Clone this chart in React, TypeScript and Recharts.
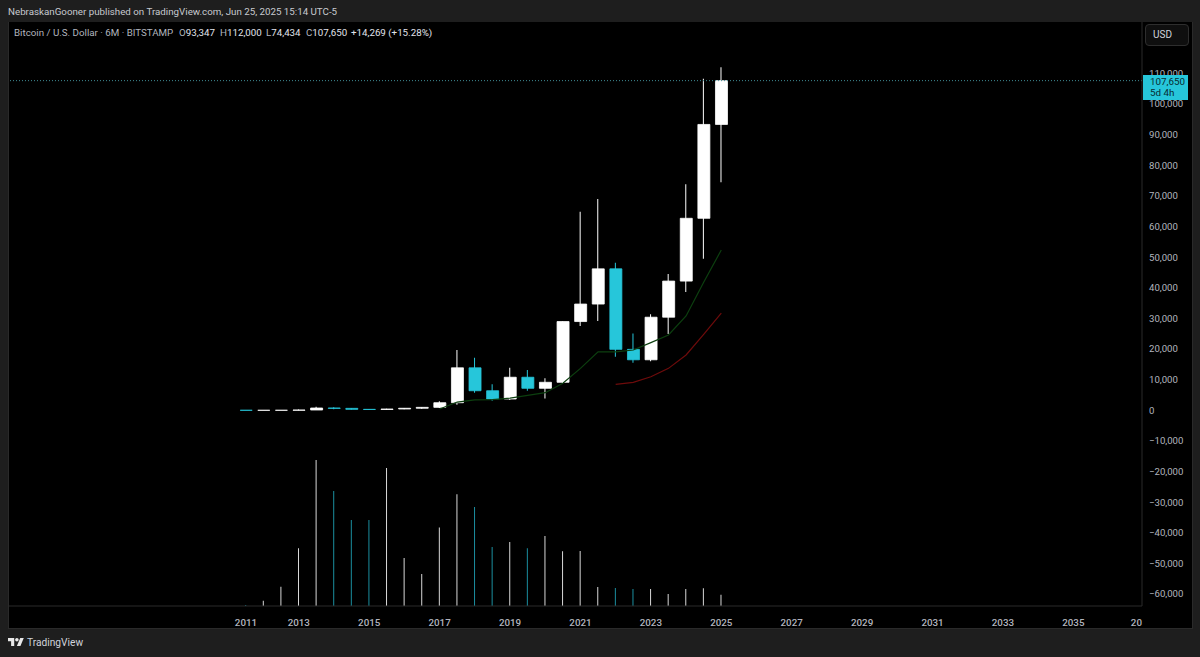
import React from 'react';
import { ComposedChart, Bar, Line, XAxis, YAxis, ReferenceLine, Cell } from 'recharts';

const periods = [
  2011.5, 2012, 2012.5, 2013, 2013.5, 2014, 2014.5, 2015, 2015.5, 2016, 2016.5, 2017, 2017.5, 2018,
  2018.5, 2019, 2019.5, 2020, 2020.5, 2021, 2021.5, 2022, 2022.5, 2023, 2023.5, 2024, 2024.5, 2025,
];
const opens = [
  15, 5, 7, 14, 97, 754, 640, 320, 263, 430, 673, 966, 2480, 13880,
  6390, 3694, 10800, 7190, 9150, 28990, 34700, 46200, 19900, 16500, 30400, 42200, 62700, 93347,
];
const highs = [
  31, 8, 15, 266, 1163, 995, 680, 320, 500, 780, 980, 3000, 19666, 17176,
  8490, 13880, 13160, 10450, 29000, 64800, 69000, 48200, 25100, 31400, 44500, 73800, 108300, 112000,
];
const lows = [
  2, 4, 6, 13, 65, 340, 275, 152, 199, 350, 470, 775, 1800, 5750,
  3122, 3350, 6400, 3850, 8900, 27500, 29200, 17500, 15500, 16000, 24900, 38600, 49500, 74434,
];
const closes = [
  5, 7, 14, 97, 754, 640, 320, 263, 430, 673, 966, 2480, 13880, 6390,
  3694, 10800, 7190, 9150, 28990, 34700, 46200, 19900, 16500, 30400, 42200, 62700, 93347, 107650,
];
// volume, thousands of BTC
const volumes = [
  40, 220, 790, 2370, 6000, 4730, 3530, 3530, 5670, 1970, 1320, 3230, 4590, 4070,
  2420, 2630, 2370, 2880, 2250, 2260, 780, 740, 700, 700, 490, 700, 730, 460,
];
const greenLine = [
  null, null, null, null, null, null, null, null, null, null, null, 430, 2700, 3400,
  3460, 4000, 4900, 5750, 8820, 13700, 19100, 19100, 19700, 22100, 24600, 30800, 41800, 52350,
];
const redLine = [
  null, null, null, null, null, null, null, null, null, null, null, null, null, null,
  null, null, null, null, null, null, null, 8490, 9140, 10970, 13700, 18060, 24800, 31700,
];

const priceTicks = [
  110000, 100000, 90000, 80000, 70000, 60000, 50000, 40000, 30000, 20000, 10000, 0,
  -10000, -20000, -30000, -40000, -50000, -60000,
];
const yearTicks = [2011.5, 2013, 2015, 2017, 2019, 2021, 2023, 2025, 2027, 2029, 2031, 2033, 2035, 2036.95];

const UP = '#ffffff';
const DOWN = '#26c6da';
const LABEL = '#b2b5be';
const FONT = 'Roboto, sans-serif';

const chartData = periods.map((period, i) => ({
  period,
  wick: [lows[i], highs[i]],
  body: [Math.min(opens[i], closes[i]), Math.max(opens[i], closes[i])],
  volume: volumes[i],
  green: greenLine[i],
  red: redLine[i],
  color: closes[i] >= opens[i] ? UP : DOWN,
}));

const YearTick = ({ x, y, payload }: any) => {
  const last = payload.value > 2036;
  return (
    <text x={x} y={y + 12} textAnchor={last ? 'end' : 'middle'} fill={LABEL} fontSize={9.8} fontWeight={500} fontFamily={FONT}>
      {last ? '20' : Math.floor(payload.value)}
    </text>
  );
};

const Ohlc = ({ k, v, w }: { k: string; v: string; w: number }) => (
  <span style={{ display: 'inline-block', width: w }}>
    <span style={{ color: LABEL }}>{k}</span>
    <span style={{ color: '#e0e3eb' }}>{v}</span>
  </span>
);

const abs = (left: number, top: number): React.CSSProperties => ({ position: 'absolute', left, top, whiteSpace: 'nowrap' });

export default function App() {
  const xDomain = [2004.74, 2036.95];
  return (
    <div style={{ position: 'absolute', left: 0, top: 0, width: 1200, height: 657, background: '#1e1e1e', fontFamily: FONT, overflow: 'hidden' }}>
      <div style={{ ...abs(8, 5), fontSize: 9.75, lineHeight: '14px', color: '#c8cad0' }}>
        NebraskanGooner published on TradingView.com, Jun 25, 2025 15:14 UTC-5
      </div>

      {/* plot panel */}
      <div style={{ position: 'absolute', left: 8, top: 22, width: 1183, height: 606, background: '#000', border: '1px solid #2a2a2a', borderTop: 'none' }} />

      <div style={{ position: 'absolute', left: 0, top: 0 }}>
        <ComposedChart width={1200} height={657} data={chartData} margin={{ top: 22, right: 8, bottom: 28, left: 8 }}>
          <XAxis xAxisId="body" dataKey="period" type="number" domain={xDomain} ticks={yearTicks} interval={0}
            height={23} tickLine={false} axisLine={{ stroke: '#2a2a2a' }} tick={<YearTick />} allowDataOverflow />
          <XAxis xAxisId="wick" dataKey="period" type="number" domain={xDomain} hide allowDataOverflow />
          <XAxis xAxisId="vol" dataKey="period" type="number" domain={xDomain} hide allowDataOverflow />
          <YAxis yAxisId="price" orientation="right" domain={[-63900, 126800]} ticks={priceTicks} interval={0} width={50}
            allowDataOverflow tickLine={false} tickSize={0} tickMargin={7} axisLine={{ stroke: '#2a2a2a' }}
            tick={{ fill: LABEL, fontSize: 9.6, fontFamily: FONT }}
            tickFormatter={(v: number) => v.toLocaleString('en-US').replace('-', '\u2212')} />
          <YAxis yAxisId="vol" hide domain={[0, 24000]} allowDataOverflow />

          <Bar xAxisId="vol" yAxisId="vol" dataKey="volume" barSize={1} isAnimationActive={false}>
            {chartData.map((d) => (
              <Cell key={d.period} fill={d.color === UP ? '#d8d8d8' : '#1b8fa0'} />
            ))}
          </Bar>

          <ReferenceLine xAxisId="body" yAxisId="price" y={107650} stroke="#3f8c96" strokeDasharray="1 2" />

          <Line xAxisId="body" yAxisId="price" dataKey="green" stroke="#0c3f0f" strokeWidth={1.2} dot={false} isAnimationActive={false} />
          <Line xAxisId="body" yAxisId="price" dataKey="red" stroke="#6e0b0b" strokeWidth={1.2} dot={false} isAnimationActive={false} />

          <Bar xAxisId="wick" yAxisId="price" dataKey="wick" barSize={1} isAnimationActive={false}>
            {chartData.map((d) => (
              <Cell key={d.period} fill={d.color} />
            ))}
          </Bar>
          <Bar xAxisId="body" yAxisId="price" dataKey="body" barSize={12} isAnimationActive={false}>
            {chartData.map((d) => (
              <Cell key={d.period} fill={d.color} stroke={d.color} strokeWidth={0.8} />
            ))}
          </Bar>
        </ComposedChart>
      </div>

      {/* legend row */}
      <div style={{ ...abs(14, 26), fontSize: 9.75, lineHeight: '14px', color: LABEL }}>
        <span style={{ display: 'inline-block', width: 165 }}>Bitcoin / U.S. Dollar · 6M · BITSTAMP</span>
        <Ohlc k="O" v="93,347" w={41} />
        <Ohlc k="H" v="112,000" w={46} />
        <Ohlc k="L" v="74,434" w={40} />
        <Ohlc k="C" v="107,650" w={45} />
        <span style={{ color: '#e0e3eb' }}>+14,269 (+15.28%)</span>
      </div>

      {/* currency button */}
      <div style={{ ...abs(1145, 24), width: 44, height: 22, boxSizing: 'border-box', border: '1px solid #2e2e2e', borderRadius: 4, background: '#0f0f0f', color: '#d1d4dc', fontSize: 10, lineHeight: '20px', paddingLeft: 7 }}>
        USD
      </div>

      {/* last price tag */}
      <div style={{ ...abs(1143, 75), width: 45, height: 25, background: DOWN, color: '#062b30', fontSize: 9.8, lineHeight: '11px', paddingTop: 1, boxSizing: 'border-box', paddingLeft: 7 }}>
        <div>107,650</div>
        <div>5d 4h</div>
      </div>

      {/* footer */}
      <svg style={abs(8, 636)} width={16} height={13} viewBox="0 0 36 28">
        <path d="M14 22H7V11H0V4h14v18zM28 22h-8l7.5-18h8L28 22z" fill="#e8e8e8" />
        <circle cx={20} cy={8} r={4} fill="#e8e8e8" />
      </svg>
      <div style={{ ...abs(27, 636), fontSize: 10.2, lineHeight: '14px', color: '#d1d4dc' }}>TradingView</div>
    </div>
  );
}
